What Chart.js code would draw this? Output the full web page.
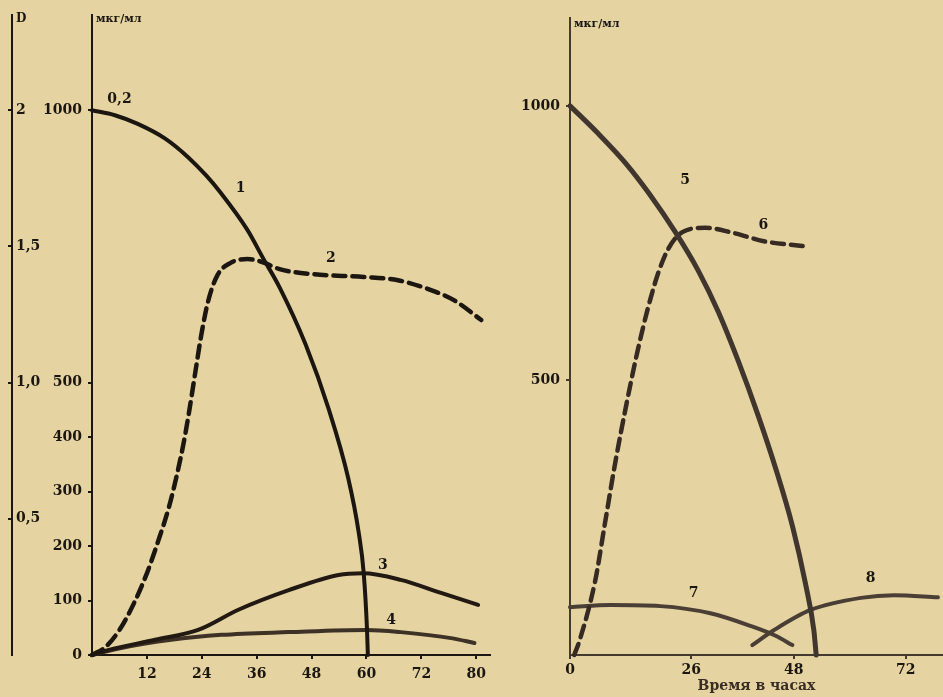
<!DOCTYPE html>
<html lang="ru">
<head>
<meta charset="utf-8">
<title>Концентрация, мкг/мл</title>
<script src="https://cdn.jsdelivr.net/npm/chart.js@4.4.1/dist/chart.umd.min.js"></script>
<style>
  html, body { margin: 0; padding: 0; background: #e5d4a2; }
  #wrap { position: relative; width: 943px; height: 697px; overflow: hidden; }
  #left { position: absolute; left: 0; top: 0; }
  #right { position: absolute; left: 500px; top: 0; }
</style>
</head>
<body>
<div id="wrap">
  <canvas id="left" width="495" height="697"></canvas>
  <canvas id="right" width="443" height="697"></canvas>
</div>
<script>
// ---- left panel: curves 1-4 (hours, мкг/мл) ----
const hours1 = [0, 5, 10, 16, 21, 25, 28, 34, 37.3, 41, 46.7, 51.8, 56, 58.3, 59.4, 60.1, 60.3];
const conc1  = [1000, 991, 975, 948, 914, 880, 850, 780, 730, 675, 570, 450, 325, 225, 150, 50, 0];
const hours2 = [0, 3, 6, 9, 12, 14.5, 16.7, 18.4, 20, 21.1, 22.6, 23.9, 25.4, 27.4, 30.3, 34, 37, 41.2, 48.5, 59.4, 66.9, 74.1, 79.2, 85.1];
const conc2  = [0, 15, 46, 92, 150, 210, 268, 325, 388, 440, 520, 588, 650, 697, 720, 727, 722, 708, 699, 694, 688, 670, 651, 615];
const hours3 = [0, 3.5, 13.8, 23.2, 32, 43, 53.9, 59.2, 67.5, 76.3, 84.4];
const conc3  = [0, 9, 28, 46, 83, 119, 147, 150, 138, 114, 92];
const hours4 = [0, 6.4, 17.3, 28.3, 43, 59.9, 67.5, 78.5, 83.6];
const conc4  = [0, 13, 28, 37, 42, 46, 42, 31, 22];

// ---- right panel: curves 5-8 ----
const hours5 = [0, 6, 12, 17, 22.6, 27.5, 31.8, 36.1, 40.4, 44.1, 47.7, 50.5, 52.3, 52.8];
const conc5  = [1000, 950, 895, 840, 770, 700, 625, 535, 435, 340, 235, 130, 45, 0];
const hours6 = [0.9, 2, 5.4, 7.5, 9.7, 12.3, 14.4, 16.6, 18.9, 21.1, 24.1, 29, 34.8, 41.9, 49.9];
const conc6  = [0, 25, 135, 240, 350, 465, 550, 628, 695, 740, 770, 778, 769, 753, 745];
const hours7 = [0, 8.6, 19.4, 30.1, 38.7, 44.1, 47.7];
const conc7  = [87, 91, 89, 76, 53, 35, 18];
const hours8 = [39.1, 43.7, 51.6, 62.4, 69.5, 78.9];
const conc8  = [18, 45, 82, 104, 109, 105];

// ---- ticks ----
const xTicksLeft  = [12, 24, 36, 48, 60, 72, 84];
const xLabelsLeft = ['12', '24', '36', '48', '60', '72', '80'];
const yTicksLeft  = [0, 100, 200, 300, 400, 500, 1000];
const dTicks      = [0.5, 1, 1.5, 2];
const dLabels     = ['0,5', '1,0', '1,5', '2'];
const xTicksRight = [0, 26, 48, 72];
const yTicksRight = [500, 1000];

// curve numbers, in data units
const tagsLeft  = [['0,2', 6, 1020], ['1', 32.5, 857], ['2', 52.2, 728], ['3', 63.6, 165], ['4', 65.4, 64]];
const tagsRight = [['5', 24.7, 864], ['6', 41.5, 782], ['7', 26.5, 113], ['8', 64.5, 140]];

const ink = '#1c1610';
const brown = '#463a30';
const tickFont = {family: 'DejaVu Serif', size: 14, weight: 'bold'};

const pts = (xs, ys) => xs.map((x, i) => ({x: x, y: ys[i]}));

function line(xs, ys, color, width, dash) {
  return {
    data: pts(xs, ys),
    borderColor: color,
    borderWidth: width,
    borderDash: dash || [],
    borderCapStyle: 'round',
    pointRadius: 0,
    fill: false,
    cubicInterpolationMode: 'monotone',
    clip: 6
  };
}

const texts = {
  id: 'texts',
  afterDraw(chart, args, opts) {
    const {ctx, scales, chartArea} = chart;
    ctx.save();
    ctx.fillStyle = ink;
    ctx.textAlign = 'center';
    ctx.textBaseline = 'middle';
    ctx.font = 'bold 14px "DejaVu Serif"';
    opts.tags.forEach(t => {
      ctx.fillText(t[0], scales.x.getPixelForValue(t[1]), scales.y.getPixelForValue(t[2]));
    });
    ctx.textAlign = 'left';
    opts.heads.forEach(h => {
      ctx.font = h[2];
      ctx.fillText(h[0], scales[h[1]].right + 4, chartArea.top + h[3]);
    });
    ctx.restore();
  }
};

const axisBase = (color) => ({
  type: 'linear',
  grid: {drawOnChartArea: false, tickLength: 4, color: color, lineWidth: 2},
  border: {color: color, width: 2},
  ticks: {font: tickFont, color: ink, padding: 3, autoSkip: false, maxRotation: 0}
});

// left chart
const lx = axisBase(ink);
Object.assign(lx, {min: 0, max: 87,
  afterBuildTicks: s => { s.ticks = xTicksLeft.map(v => ({value: v})); },
  afterFit: s => { s.height = 42; }});
lx.ticks.callback = (v, i) => xLabelsLeft[i];
lx.ticks.padding = 7;

const ly = axisBase(ink);
Object.assign(ly, {position: 'left', weight: 1, min: 0, max: 1175,
  afterBuildTicks: s => { s.ticks = yTicksLeft.map(v => ({value: v})); },
  afterFit: s => { s.width = 80; }});
ly.ticks.callback = v => String(v);
ly.ticks.padding = 6;

const ld = axisBase(ink);
Object.assign(ld, {position: 'left', weight: 2, min: 0, max: 1175 / 500,
  afterBuildTicks: s => { s.ticks = dTicks.map(v => ({value: v})); },
  afterFit: s => { s.width = 12; }});
ld.ticks.callback = (v, i) => dLabels[i];
ld.ticks.mirror = true;
ld.ticks.padding = 4;

new Chart(document.getElementById('left'), {
  type: 'line',
  data: {datasets: [
    line(hours1, conc1, ink, 4),
    line(hours2, conc2, ink, 4.5, [12, 7]),
    line(hours3, conc3, '#221a12', 4),
    line(hours4, conc4, '#3e3126', 4)
  ]},
  options: {
    responsive: false,
    animation: false,
    layout: {padding: {top: 15, right: 5, left: 0, bottom: 0}},
    scales: {x: lx, y: ly, yD: ld},
    plugins: {
      legend: {display: false},
      tooltip: {enabled: false},
      texts: {
        tags: tagsLeft,
        heads: [['D', 'yD', 'bold 12px "DejaVu Serif"', 4], ['мкг/мл', 'y', 'bold 11px "DejaVu Serif"', 4]]
      }
    }
  },
  plugins: [texts]
});

// right chart
const rx = axisBase(brown);
Object.assign(rx, {min: 0, max: 80,
  afterBuildTicks: s => { s.ticks = xTicksRight.map(v => ({value: v})); },
  afterFit: s => { s.height = 42; },
  title: {display: true, text: 'Время в часах', font: {family: 'DejaVu Serif', size: 14, weight: 'bold'}, color: '#3a2e24', padding: {top: 0, bottom: 2}}});
rx.ticks.callback = v => String(v);

const ry = axisBase(brown);
Object.assign(ry, {position: 'left', min: 0, max: 1160,
  afterBuildTicks: s => { s.ticks = yTicksRight.map(v => ({value: v})); },
  afterFit: s => { s.width = 70; }});
ry.ticks.callback = v => String(v);
ry.ticks.padding = 6;

new Chart(document.getElementById('right'), {
  type: 'line',
  data: {datasets: [
    line(hours5, conc5, '#41362e', 5),
    line(hours6, conc6, '#362a22', 4.5, [12, 7]),
    line(hours7, conc7, '#4a3e35', 4),
    line(hours8, conc8, '#4a3e35', 4)
  ]},
  options: {
    responsive: false,
    animation: false,
    layout: {padding: {top: 18, right: 0, left: 0, bottom: 0}},
    scales: {x: rx, y: ry},
    plugins: {
      legend: {display: false},
      tooltip: {enabled: false},
      texts: {
        tags: tagsRight,
        heads: [['мкг/мл', 'y', 'bold 11px "DejaVu Serif"', 6]]
      }
    }
  },
  plugins: [texts]
});
</script>
</body>
</html>
